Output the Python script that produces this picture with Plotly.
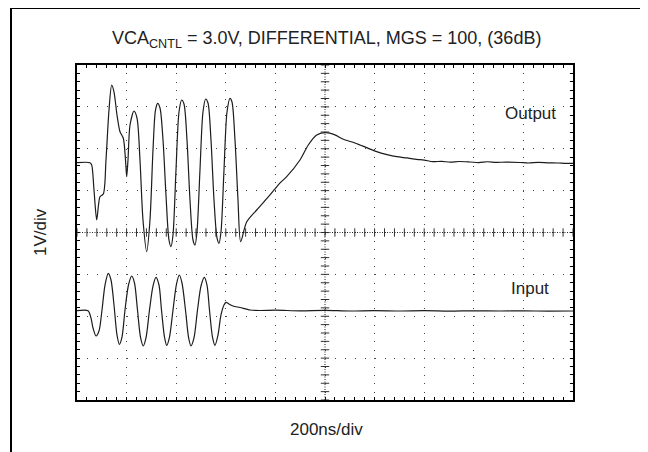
import numpy as np
import plotly.graph_objects as go

# ---- data (time in ns, amplitude in V) ----
out_t = [0, 52.4, 59.3, 68.5, 79.4, 86.7, 92.7, 106, 116.9, 129, 139.9, 149.2, 161.3, 173.4,
         186.7, 195.6, 200.4, 205.6, 213.8, 229.8, 241.9, 254, 266.1, 281, 294.3, 306.4,
         316.5, 325.4, 334.7, 346.8, 358.8, 370.9, 379, 387.1, 399.2, 411.3, 422.2, 431.4,
         443.5, 455.6, 467.7, 475.8, 483.8, 495.9, 508, 518.9, 528.2, 540.3, 552.4, 564.5,
         572.5, 580.6, 592.7, 604.8, 616.9, 625, 637.1, 649.2, 660, 684, 724.6, 778.2,
         818, 845.5, 899.1, 932.6, 966.5, 1004, 1040, 1073.7, 1110, 1141.1, 1175, 1208.4,
         1250, 1289, 1330, 1369.7, 1400, 1435.4, 1470, 1505, 1540, 1584.6, 1620, 1655,
         1690, 1730, 1786.2, 1820, 1860, 1900, 1940, 1970, 2000]
out_v = [1.667, 1.667, 1.612, 1.015, 0.299, 0.657, 0.855, 0.919, 1.731, 2.925, 3.522, 3.355,
         2.806, 2.407, 2.250, 1.731, 1.333, 1.731, 2.567, 2.901, 2.734, 1.731, 0.299, -0.459,
         0.299, 1.970, 2.925, 3.085, 2.973, 2.209, 0.896, -0.179, -0.339, -0.060, 1.493,
         2.878, 3.164, 3.069, 2.209, 0.776, -0.179, -0.299, 0.012, 1.493, 2.878, 3.188,
         3.093, 2.209, 0.776, -0.131, -0.258, 0.012, 1.493, 2.878, 3.205, 3.116, 2.209,
         0.776, -0.220, 0.250, 0.537, 0.896, 1.180, 1.333, 1.731, 2.090, 2.328, 2.383,
         2.330, 2.226, 2.160, 2.090, 2.010, 1.930, 1.860, 1.810, 1.780, 1.748, 1.730,
         1.691, 1.700, 1.680, 1.695, 1.684, 1.670, 1.690, 1.675, 1.680, 1.672, 1.660,
         1.675, 1.665, 1.660, 1.650, 1.653]

in_t = [0, 44.4, 56.4, 64.5, 76.6, 88.7, 100.8, 112.9, 126.2, 137.1, 149.2, 161.3, 170.6,
        181.4, 193.5, 207.6, 220.6, 231.8, 243.9, 256, 267.3, 278.2, 292.3, 306.4, 318.5,
        330.6, 340.7, 352.8, 361.7, 373, 387.1, 401.2, 412.5, 423.4, 437.5, 449.6, 459.6,
        471.7, 485.9, 500, 513.3, 524.2, 534.2, 546.3, 556.4, 568.5, 580.6, 592.7, 600.8,
        612.9, 629, 657.2, 697.5, 737.9, 800, 899.1, 1000, 1100, 1200, 1302.3, 1400, 1500,
        1600, 1705.5, 1800, 1900, 2000]
in_v = [-1.867, -1.867, -2.042, -2.281, -2.472, -2.352, -1.851, -1.254, -0.974, -1.134,
        -1.731, -2.448, -2.670, -2.496, -1.851, -1.254, -1.039, -1.206, -1.851, -2.496,
        -2.710, -2.519, -1.851, -1.278, -1.070, -1.254, -1.851, -2.496, -2.694, -2.496,
        -1.851, -1.230, -1.015, -1.206, -1.851, -2.496, -2.710, -2.519, -1.851, -1.278,
        -1.070, -1.254, -1.851, -2.496, -2.694, -2.448, -1.970, -1.731, -1.667, -1.707,
        -1.755, -1.791, -1.851, -1.863, -1.855, -1.870, -1.860, -1.875, -1.865, -1.875,
        -1.868, -1.878, -1.870, -1.875, -1.872, -1.878, -1.875]

title_text = "VCA<sub>CNTL</sub> = 3.0V, DIFFERENTIAL, MGS = 100, (36dB)"
x_label = "200ns/div"
y_label = "1V/div"
trace_labels = ["Output", "Input"]

# ---- axis constants ----
X_MIN, X_MAX, X_DIV = 0, 2000, 200
Y_MIN, Y_MAX, Y_DIV = -4, 4, 1
N_MINOR = 5

W, H = 648, 452
OFF = 8  # page body margin of the browser
ML, MT = 77 - OFF, 65 - OFF
PW, PH = 496, 335
MR, MB = W - ML - PW, H - MT - PH

fig = go.Figure()

line_col = "#1c1c1c"
fig.add_trace(go.Scatter(x=out_t, y=out_v, mode="lines", line=dict(color=line_col, width=1.2, shape="spline", smoothing=0.8), hoverinfo="skip"))
fig.add_trace(go.Scatter(x=in_t, y=in_v, mode="lines", line=dict(color=line_col, width=1.2, shape="spline", smoothing=0.8), hoverinfo="skip"))

# center cross minor ticks
xc = (X_MIN + X_MAX) / 2
yc = (Y_MIN + Y_MAX) / 2
xt = np.arange(X_MIN, X_MAX + 1e-9, X_DIV / N_MINOR)
yt = np.arange(Y_MIN, Y_MAX + 1e-9, Y_DIV / N_MINOR)
fig.add_trace(go.Scatter(x=xt, y=[yc] * len(xt), mode="markers",
                         marker=dict(symbol="line-ns", size=6, line=dict(color="#333", width=1)), hoverinfo="skip"))
fig.add_trace(go.Scatter(x=[xc] * len(yt), y=yt, mode="markers",
                         marker=dict(symbol="line-ew", size=6, line=dict(color="#333", width=1)), hoverinfo="skip"))

# center cross dotted lines
fig.add_shape(type="line", x0=xc, x1=xc, y0=Y_MIN, y1=Y_MAX, xref="x", yref="y",
              line=dict(color="#222", width=1, dash="1px,1.5px"))
fig.add_shape(type="line", x0=X_MIN, x1=X_MAX, y0=yc, y1=yc, xref="x", yref="y",
              line=dict(color="#222", width=1, dash="1px,1.5px"))

# screen pixel -> paper coords
px2x = lambda p: (p - OFF - ML) / PW
py2y = lambda p: (MT + PH - (p - OFF)) / PH
fig.add_shape(type="line", xref="paper", yref="paper", x0=px2x(11), x1=px2x(W + 20), y0=py2y(8), y1=py2y(8),
              line=dict(color="black", width=2))
fig.add_shape(type="line", xref="paper", yref="paper", x0=px2x(11), x1=px2x(11), y0=py2y(7), y1=py2y(H + 20),
              line=dict(color="black", width=2))

font = dict(family="Liberation Sans, Arial, sans-serif", size=17, color="#222")
fig.add_annotation(text=title_text, xref="paper", yref="paper", x=px2x(326), y=py2y(39), showarrow=False,
                   font=dict(font, size=18), xanchor="center", yanchor="middle")
fig.add_annotation(text=trace_labels[0], xref="paper", yref="paper", x=px2x(530), y=py2y(114), showarrow=False,
                   font=font, xanchor="center", yanchor="middle")
fig.add_annotation(text=trace_labels[1], xref="paper", yref="paper", x=px2x(530), y=py2y(288), showarrow=False,
                   font=font, xanchor="center", yanchor="middle")
fig.add_annotation(text=x_label, xref="paper", yref="paper", x=px2x(326), y=py2y(429), showarrow=False,
                   font=font, xanchor="center", yanchor="middle")
fig.add_annotation(text=y_label, xref="paper", yref="paper", x=px2x(40), y=py2y(232), showarrow=False,
                   font=font, xanchor="center", yanchor="middle", textangle=-90)

vpitch = PH / ((Y_MAX - Y_MIN) / Y_DIV * N_MINOR)
hpitch = PW / ((X_MAX - X_MIN) / X_DIV * N_MINOR)
axis_common = dict(showticklabels=False, ticks="inside", ticklen=3, tickcolor="black", tickwidth=1,
                   showline=True, linecolor="black", linewidth=2, mirror="allticks", zeroline=False,
                   gridcolor="#444", gridwidth=1)
fig.update_xaxes(range=[X_MIN, X_MAX], dtick=X_DIV, tick0=X_MIN, showgrid=True,
                 griddash="1px,%.3fpx" % (vpitch - 1),
                 minor=dict(dtick=X_DIV / N_MINOR, ticks="inside", ticklen=3, tickcolor="black", showgrid=False),
                 **axis_common)
fig.update_yaxes(range=[Y_MIN, Y_MAX], dtick=Y_DIV, tick0=Y_MIN, showgrid=True,
                 griddash="1px,%.3fpx" % (hpitch - 1),
                 minor=dict(dtick=Y_DIV / N_MINOR, ticks="inside", ticklen=3, tickcolor="black", showgrid=False),
                 **axis_common)

fig.update_layout(width=W, height=H, margin=dict(l=ML, r=MR, t=MT, b=MB),
                  paper_bgcolor="white", plot_bgcolor="white", showlegend=False)

fig.write_html("out.html")
